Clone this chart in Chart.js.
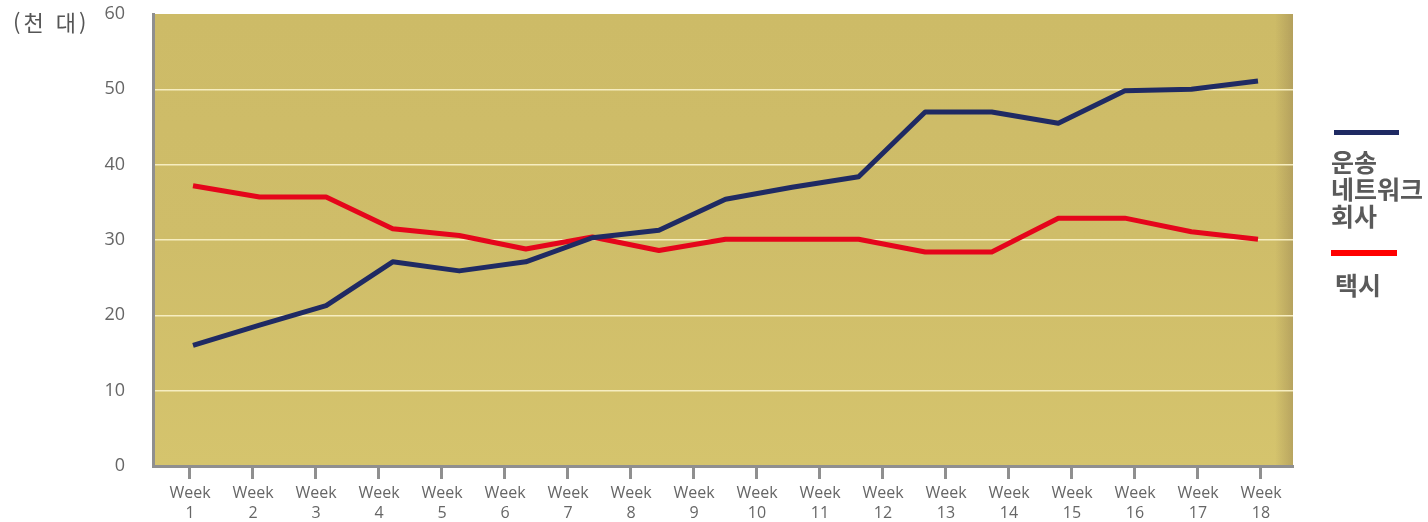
<!DOCTYPE html>
<html lang="ko">
<head>
<meta charset="utf-8">
<script src="https://cdn.jsdelivr.net/npm/chart.js@4/dist/chart.umd.min.js"></script>
<style>
  html, body { margin: 0; padding: 0; background: #ffffff; }
  #wrap { position: relative; width: 1428px; height: 522px; overflow: hidden; }
  #c { position: absolute; left: 0; top: 0; }
  .unit { position: absolute; left: 13px; top: 5px; font: 22px "Noto Sans CJK KR", "Noto Sans", sans-serif; color: #555; letter-spacing: 3px; white-space: nowrap; }
  .legend { position: absolute; left: 1331px; font: bold 25px "Noto Sans CJK KR", sans-serif; color: #5a5a5a; line-height: 27px; white-space: nowrap; }
  .swatch { position: absolute; height: 5px; }
</style>
</head>
<body>
<div id="wrap">
  <canvas id="c" width="1428" height="522"></canvas>
  <div class="unit">(천 대)</div>
  <div class="swatch" style="left:1334px; top:130px; width:65px; background:#1f2a63;"></div>
  <div class="legend" style="top:148px;">운송<br>네트워크<br>회사</div>
  <div class="swatch" style="left:1331px; top:250px; width:66px; height:6px; background:#ff0000;"></div>
  <div class="legend" style="top:271px; left:1335px;">택시</div>
</div>
<script>
// Week labels on the axis
const weeks = ['1','2','3','4','5','6','7','8','9','10','11','12','13','14','15','16','17','18'];
// Weekly volumes, thousands of vehicles (17 readings spread across the 18 weeks)
const rideshare = [16.0, 18.7, 21.3, 27.1, 25.9, 27.1, 30.3, 31.3, 35.4, 37.0, 38.4, 47.0, 47.0, 45.5, 49.8, 50.0, 51.1];
const taxi      = [37.2, 35.7, 35.7, 31.5, 30.6, 28.8, 30.4, 28.6, 30.1, 30.1, 30.1, 28.4, 28.4, 32.9, 32.9, 31.1, 30.1];
const yTicks = [0, 10, 20, 30, 40, 50, 60];

const toPoints = arr => arr.map((v, i) => ({ x: i, y: v }));

// Gold panel behind the plot
const panel = {
  id: 'panel',
  beforeDraw(chart) {
    const { ctx, chartArea: a } = chart;
    ctx.save();
    const g = ctx.createLinearGradient(0, a.top, 0, a.bottom);
    g.addColorStop(0, '#cdbb67');
    g.addColorStop(0.5, '#cfbd69');
    g.addColorStop(1, '#d5c46d');
    ctx.fillStyle = g;
    ctx.fillRect(a.left, a.top, a.right - a.left, a.bottom - a.top);
    const h = ctx.createLinearGradient(a.right - 18, 0, a.right, 0);
    h.addColorStop(0, 'rgba(150,128,80,0)');
    h.addColorStop(1, 'rgba(150,128,80,0.45)');
    ctx.fillStyle = h;
    ctx.fillRect(a.right - 18, a.top, 18, a.bottom - a.top);
    ctx.restore();
  }
};

new Chart(document.getElementById('c'), {
  type: 'line',
  data: {
    datasets: [
      { label: '운송 네트워크 회사', data: toPoints(rideshare), xAxisID: 'xd',
        borderColor: '#1f2a63', borderWidth: 5, pointRadius: 0, tension: 0, borderJoinStyle: 'round' },
      { label: '택시', data: toPoints(taxi), xAxisID: 'xd',
        borderColor: '#e5051b', borderWidth: 5, pointRadius: 0, tension: 0, borderJoinStyle: 'round' }
    ]
  },
  options: {
    responsive: false,
    animation: false,
    events: [],
    layout: { padding: { top: 14, right: 135, left: 0, bottom: 0 } },
    plugins: { legend: { display: false }, tooltip: { enabled: false } },
    scales: {
      xd: {
        type: 'linear', display: false, min: -0.601, max: 16.526
      },
      x: {
        type: 'linear', position: 'bottom', min: 0.413, max: 18.508,
        afterBuildTicks: s => { s.ticks = weeks.map((w, i) => ({ value: i + 1 })); },
        afterFit: s => { s.height = 56; s.paddingLeft = 0; s.paddingRight = 0; },
        ticks: {
          callback: (v) => ['Week', weeks[v - 1]],
          font: { family: '"Open Sans", sans-serif', size: 16, lineHeight: 1.25 },
          color: '#666666', padding: 4, maxRotation: 0, autoSkip: false
        },
        grid: { drawOnChartArea: false, drawTicks: true, tickLength: 13, tickWidth: 3, tickColor: '#8f8f8f' },
        border: { display: true, color: '#8f8f8f', width: 3 }
      },
      y: {
        min: 0, max: 60,
        afterBuildTicks: s => { s.ticks = yTicks.map(v => ({ value: v })); },
        afterFit: s => { s.width = 153; s.paddingTop = 0; s.paddingBottom = 0; },
        ticks: {
          font: { family: '"Open Sans", sans-serif', size: 18 },
          color: '#666666', padding: 28
        },
        grid: {
          drawTicks: false, lineWidth: 1.5,
          color: c => (c.tick.value === 0 || c.tick.value === 60) ? 'rgba(0,0,0,0)' : '#f6edc0'
        },
        border: { display: true, color: '#8f8f8f', width: 3 }
      }
    }
  },
  plugins: [panel]
});
</script>
</body>
</html>
